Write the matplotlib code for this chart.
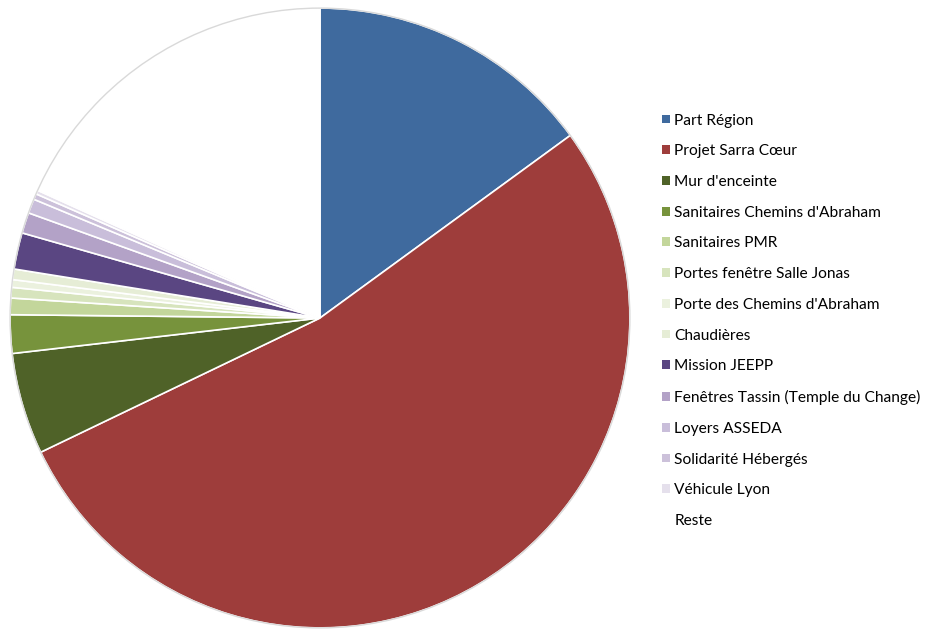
import matplotlib
matplotlib.use("Agg")
import matplotlib.pyplot as plt
from matplotlib.patches import Patch, Circle

labels = ["Part Région", "Projet Sarra Cœur", "Mur d'enceinte",
          "Sanitaires Chemins d'Abraham", "Sanitaires PMR",
          "Portes fenêtre Salle Jonas", "Porte des Chemins d'Abraham",
          "Chaudières", "Mission JEEPP", "Fenêtres Tassin (Temple du Change)",
          "Loyers ASSEDA", "Solidarité Hébergés", "Véhicule Lyon", "Reste"]
values = [14.97, 52.9, 5.3, 2.0, 0.86, 0.55, 0.4, 0.55, 1.9, 1.08, 0.75, 0.3, 0.2, 18.24]
colors = ["#3F6A9E", "#9E3D3B", "#4F6228", "#77933C", "#C3D69B",
          "#D7E4BD", "#EBF1DE", "#E6EDD6", "#5A4682", "#B3A2C7",
          "#C9BEDA", "#CCC1DA", "#E5E0EC", "#FFFFFF"]

plt.rcParams['font.family'] = ['Lato', 'DejaVu Sans']

fig = plt.figure(figsize=(9.35, 6.33), dpi=100)
ax = fig.add_axes([(320 - 313) / 935, (633 - 318 - 313) / 633, 626 / 935, 626 / 633])
ax.pie(values, colors=colors, startangle=90, counterclock=False, radius=1,
       wedgeprops=dict(edgecolor="white", linewidth=1.2))
ax.add_patch(Circle((0, 0), 1.0, fill=False, edgecolor="#D9D9D9", linewidth=1.0))
ax.set_xlim(-1.01, 1.01)
ax.set_ylim(-1.01, 1.01)
ax.set_aspect("equal")
ax.axis("off")

handles = [Patch(facecolor=c, edgecolor="none") for c in colors]
fig.legend(handles, labels, loc="upper left",
           bbox_to_anchor=(662 / 935, 1 - 113.5 / 633),
           frameon=False, fontsize=11.2, handlelength=0.5, handleheight=0.5,
           handletextpad=0.3, labelspacing=1.075, borderpad=0, borderaxespad=0)

fig.savefig("out.png", dpi=100, facecolor="white")
